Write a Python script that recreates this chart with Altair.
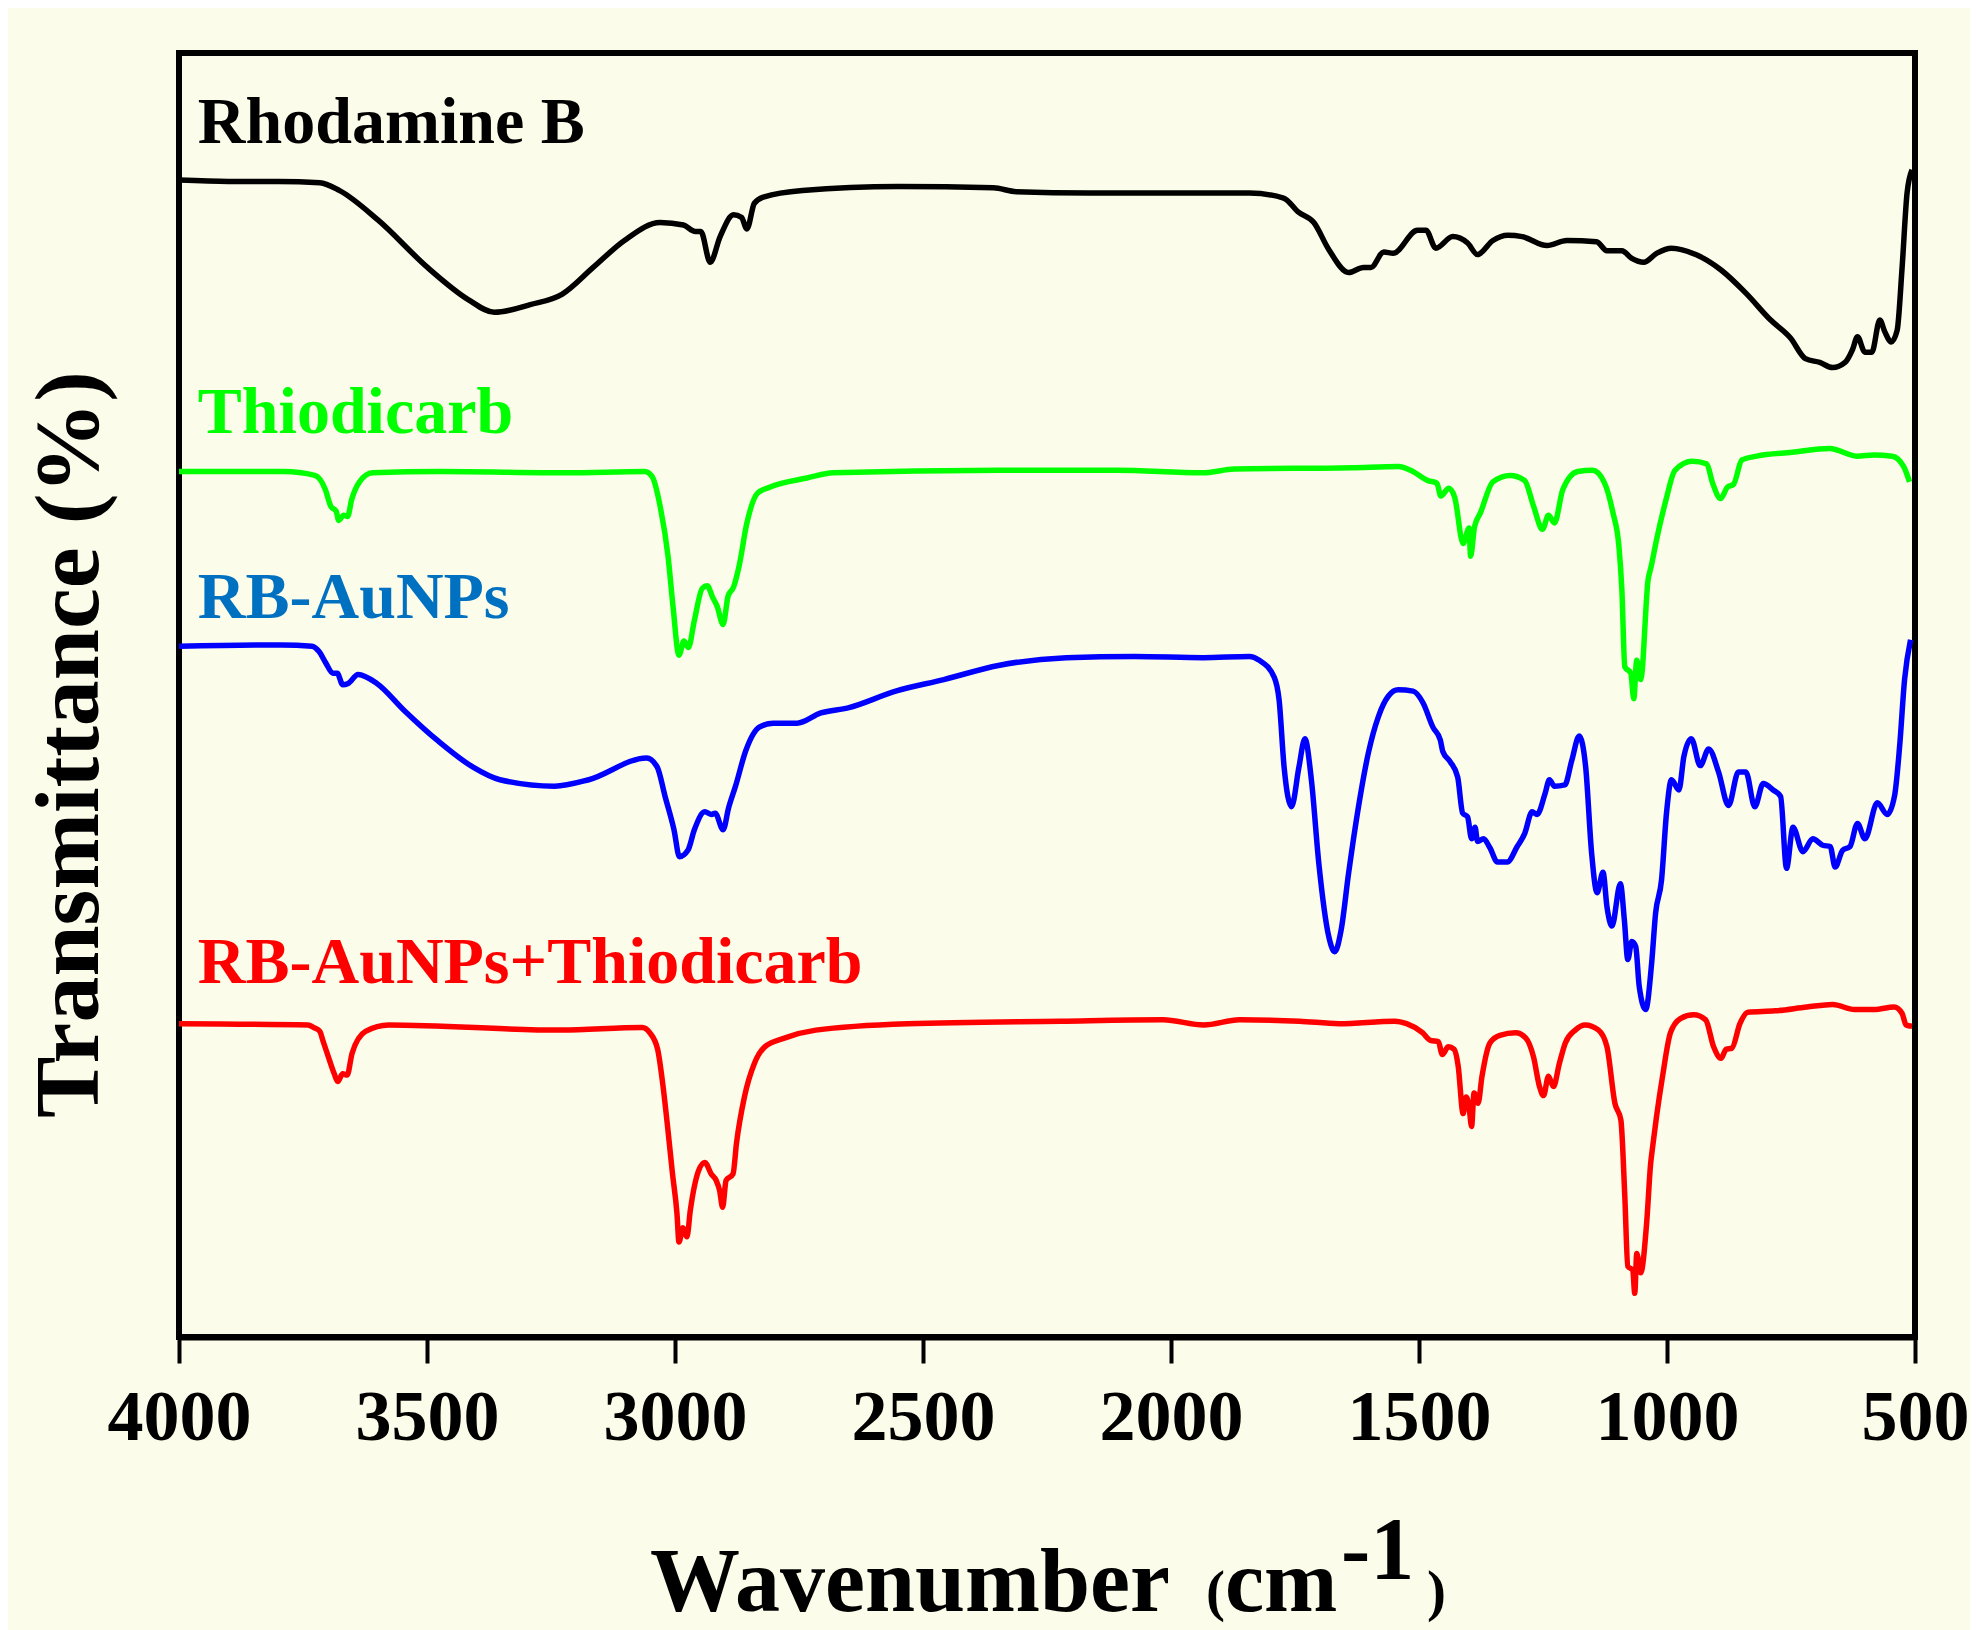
import altair as alt
import pandas as pd

# ---------------- data ----------------
series_names = ["Rhodamine B", "Thiodicarb", "RB-AuNPs", "RB-AuNPs+Thiodicarb"]

rb_wn = [4000, 3900, 3800, 3716, 3677, 3599, 3499, 3417, 3364, 3292, 3228, 3165, 3102, 3030, 2983,
         2959, 2948, 2929, 2909, 2882, 2866, 2855, 2840, 2820, 2743, 2550, 2358, 2312, 2164, 1842,
         1773, 1743, 1712, 1682, 1642, 1612, 1597, 1571, 1552, 1503, 1486, 1466, 1432, 1402, 1382,
         1351, 1321, 1292, 1242, 1202, 1142, 1121, 1091, 1071, 1047, 1021, 991, 942, 891, 841,
         791, 751, 721, 692, 666, 641, 626, 616, 601, 587, 571, 561, 548, 536, 526, 516, 506]
rb_t = [90.1, 90.0, 90.0, 89.9, 89.3, 87.0, 83.3, 80.8, 79.8, 80.4, 81.2, 83.3, 85.4, 86.8, 86.6,
        86.1, 86.1, 83.7, 85.7, 87.4, 87.2, 86.3, 88.3, 88.8, 89.3, 89.6, 89.5, 89.2, 89.1, 89.1,
        88.7, 87.6, 86.8, 84.7, 82.9, 83.3, 83.3, 84.5, 84.4, 86.2, 86.2, 84.8, 85.7, 85.2, 84.3,
        85.4, 85.8, 85.7, 85.0, 85.4, 85.3, 84.6, 84.6, 84.0, 83.7, 84.4, 84.8, 84.3, 83.1, 81.3,
        79.2, 77.8, 76.2, 75.9, 75.5, 75.9, 76.9, 77.9, 76.7, 76.7, 79.2, 78.3, 77.5, 78.4, 83.3,
        89.1, 90.9]

th_wn = [4000, 3789, 3726, 3705, 3694, 3683, 3678, 3668, 3660, 3652, 3636, 3610, 3473, 3219, 3061,
         3046, 3030, 3014, 3004, 2992, 2982, 2973, 2961, 2945, 2935, 2924, 2915, 2903, 2893, 2882,
         2871, 2855, 2834, 2808, 2734, 2681, 2346, 2110, 1937, 1872, 1636, 1541, 1517, 1482, 1464,
         1456, 1440, 1428, 1411, 1399, 1396, 1388, 1376, 1351, 1316, 1287, 1269, 1251, 1239, 1227,
         1210, 1180, 1150, 1127, 1109, 1097, 1091, 1085, 1073, 1067, 1061, 1053, 1038, 1032, 1021,
         1002, 984, 949, 920, 908, 892, 878, 866, 849, 819, 748, 672, 617, 583, 546, 523, 511]
th_t = [67.4, 67.4, 67.1, 66.0, 64.7, 64.3, 63.6, 64.0, 63.9, 65.2, 66.6, 67.3, 67.4, 67.3, 67.4,
        67.0, 64.7, 60.8, 56.9, 53.1, 54.2, 53.7, 55.8, 58.3, 58.5, 57.6, 56.9, 55.5, 57.7, 58.4,
        60.0, 63.4, 65.7, 66.2, 66.9, 67.3, 67.5, 67.5, 67.3, 67.6, 67.7, 67.8, 67.5, 66.7, 66.5,
        65.5, 66.1, 65.4, 61.8, 63.0, 60.8, 63.1, 64.2, 66.6, 67.1, 66.7, 64.7, 62.9, 64.0, 63.4,
        66.0, 67.4, 67.5, 66.6, 64.2, 61.6, 58.2, 52.2, 51.7, 49.7, 52.7, 51.2, 59.0, 60.0, 62.1,
        65.2, 67.5, 68.2, 68.0, 66.5, 65.3, 66.2, 66.4, 68.3, 68.6, 68.9, 69.2, 68.6, 68.7, 68.6,
        67.8, 66.6]

au_wn = [4000, 3793, 3732, 3718, 3704, 3690, 3681, 3670, 3659, 3639,
         3601, 3546, 3477, 3408, 3353, 3243, 3174, 3057, 3036, 3020,
         3002, 2991, 2974, 2961, 2940, 2926, 2919, 2903, 2892, 2878,
         2857, 2830, 2802, 2754, 2706, 2651, 2555, 2458, 2348, 2211,
         2073, 1935, 1842, 1822, 1792, 1782, 1772, 1757, 1742, 1730,
         1717, 1702, 1682, 1670, 1657, 1642, 1622, 1602, 1582, 1562,
         1542, 1512, 1492, 1472, 1457, 1452, 1437, 1422, 1412, 1402,
         1394, 1387, 1382, 1370, 1357, 1342, 1322, 1302, 1287, 1272,
         1262, 1246, 1237, 1227, 1206, 1192, 1177, 1164, 1152, 1141,
         1129, 1121, 1111, 1094, 1086, 1079, 1071, 1063, 1056, 1043,
         1031, 1023, 1011, 1001, 991, 976, 966, 951, 933, 916,
         896, 876, 856, 841, 823, 806, 786, 771, 759, 746,
         726, 706, 686, 671, 661, 646, 631, 616, 601, 576,
         556, 541, 531, 521, 509]
au_t = [53.8, 53.9, 53.8, 53.4, 52.5, 51.7, 51.7, 50.8, 50.9, 51.6,
        50.9, 48.8, 46.4, 44.4, 43.4, 42.9, 43.4, 45.1, 44.4, 42.1,
        39.5, 37.4, 37.9, 39.5, 40.9, 40.7, 40.8, 39.5, 41.2, 42.9,
        45.7, 47.5, 47.8, 47.8, 48.6, 49.0, 50.3, 51.2, 52.3, 52.9,
        53.0, 52.9, 53.0, 52.7, 51.4, 49.6, 44.4, 41.3, 44.4, 46.6,
        43.4, 36.9, 31.2, 30.0, 31.7, 36.1, 41.3, 45.5, 48.3, 49.9,
        50.4, 50.3, 49.4, 47.5, 46.5, 45.6, 44.8, 43.6, 40.8, 40.5,
        38.8, 39.7, 38.6, 38.8, 38.1, 37.0, 37.0, 38.2, 39.2, 40.9,
        40.7, 42.3, 43.4, 42.9, 43.0, 44.9, 46.8, 44.4, 37.7, 34.6,
        36.2, 33.5, 32.0, 35.3, 32.5, 29.4, 30.8, 30.4, 27.3, 25.5,
        29.1, 33.0, 35.6, 40.8, 43.4, 42.6, 45.2, 46.6, 44.5, 45.8,
        44.0, 41.4, 44.0, 44.0, 41.3, 43.1, 42.6, 42.1, 36.5, 39.7,
        37.8, 38.8, 38.3, 38.2, 36.6, 37.9, 38.2, 40.0, 38.8, 41.6,
        40.7, 42.2, 46.0, 51.2, 54.3]

mix_wn = [4000, 3740, 3728, 3716, 3710, 3697, 3687, 3680, 3670, 3661,
          3651, 3624, 3577, 3230, 3066, 3051, 3035, 3025, 3015, 3005,
          2996, 2992, 2984, 2976, 2969, 2953, 2940, 2927, 2917, 2910,
          2904, 2897, 2883, 2876, 2860, 2840, 2819, 2778, 2716, 2531,
          2223, 2016, 1934, 1862, 1741, 1661, 1549, 1525, 1493, 1477,
          1461, 1453, 1441, 1429, 1421, 1411, 1405, 1399, 1394, 1389,
          1381, 1373, 1357, 1337, 1305, 1285, 1269, 1257, 1249, 1239,
          1229, 1217, 1205, 1185, 1165, 1138, 1121, 1105, 1093, 1085,
          1079, 1069, 1065, 1061, 1053, 1041, 1033, 1029, 1021, 1009,
          993, 973, 946, 922, 906, 891, 881, 869, 853, 837,
          782, 718, 666, 622, 582, 542, 526, 518, 506]
mix_t = [24.4, 24.3, 24.1, 23.8, 23.1, 21.6, 20.5, 19.9, 20.5, 20.4,
         22.1, 23.8, 24.3, 23.9, 24.1, 23.7, 22.4, 19.8, 16.4, 12.7,
         9.6, 7.4, 8.5, 7.8, 9.9, 12.9, 13.6, 12.7, 12.2, 11.4,
         10.1, 12.2, 12.7, 15.1, 18.7, 21.3, 22.6, 23.3, 23.9, 24.4,
         24.6, 24.7, 24.3, 24.7, 24.6, 24.4, 24.6, 24.4, 23.7, 23.1,
         23.0, 22.0, 22.6, 22.4, 21.1, 17.4, 18.7, 17.9, 16.4, 19.0,
         18.2, 20.3, 22.9, 23.5, 23.7, 23.3, 21.8, 19.5, 18.8, 20.3,
         19.5, 21.3, 22.9, 23.9, 24.3, 23.9, 22.6, 18.2, 16.9, 10.9,
         5.5, 5.2, 3.4, 6.5, 5.0, 8.9, 13.5, 14.8, 17.2, 20.3,
         23.7, 24.8, 25.1, 24.7, 22.6, 21.7, 22.4, 22.5, 24.4, 25.3,
         25.4, 25.7, 25.9, 25.5, 25.5, 25.7, 25.2, 24.3, 24.2]

# curve name labels (position in data units)
label_wn = [3962, 3962, 3962, 3962]
label_t = [93.0, 70.4, 56.0, 27.6]

tick_values = [4000, 3500, 3000, 2500, 2000, 1500, 1000, 500]

x_title_main = "Wavenumber"
x_title_open = "("
x_title_unit = "cm"
x_title_sup = "-1"
x_title_close = ")"
y_title = "Transmittance (%)"

# ---------------- styles ----------------
line_colors = ["#000000", "#00FF00", "#0000FF", "#FF0000"]
label_colors = ["#000000", "#00FF00", "#0070C0", "#FF0000"]
FONT = "Liberation Serif"
BG = "#FCFCEA"

rows = []
for name, wn, t in zip(series_names, [rb_wn, th_wn, au_wn, mix_wn], [rb_t, th_t, au_t, mix_t]):
    for w, v in zip(wn, t):
        rows.append({"series": name, "wn": w, "t": v})
df = pd.DataFrame(rows)

lab_df = pd.DataFrame({"label": series_names, "wn": label_wn, "t": label_t})

x_enc = alt.X(
    "wn:Q",
    scale=alt.Scale(domain=[4000, 500], nice=False, zero=False),
    axis=alt.Axis(
        values=tick_values, format="d", title=None, grid=False,
        labelFont=FONT, labelFontWeight="bold", labelFontSize=72, labelColor="black",
        labelPadding=19, labelFlush=False, labelOverlap=False,
        tickSize=26, tickWidth=4, tickColor="black",
        domainColor="black", domainWidth=6,
    ),
)
y_enc = alt.Y(
    "t:Q",
    scale=alt.Scale(domain=[0, 100], nice=False, zero=False),
    axis=alt.Axis(
        title=y_title, labels=False, ticks=False, domain=False, grid=False,
        titleFont=FONT, titleFontWeight="bold", titleFontSize=92, titleColor="black",
        titleAngle=270, titleX=-82, titleY=691, titleAlign="center",
        titleBaseline="alphabetic",
    ),
)

lines = alt.Chart(df).mark_line(strokeWidth=5.5, interpolate="monotone").encode(
    x=x_enc,
    y=y_enc,
    order=alt.Order("wn:Q", sort="descending"),
    color=alt.Color("series:N", scale=alt.Scale(domain=series_names, range=line_colors), legend=None),
)

labels = alt.Chart(lab_df).mark_text(
    align="left", baseline="alphabetic", font=FONT, fontWeight="bold", fontSize=66
).encode(
    x=x_enc,
    y=y_enc,
    text="label:N",
    color=alt.Color("label:N", scale=alt.Scale(domain=series_names, range=label_colors), legend=None),
)


def title_piece(txt, px, py, size):
    return alt.Chart(pd.DataFrame({"s": [txt]})).mark_text(
        align="left", baseline="alphabetic", font=FONT, fontWeight="bold",
        fontSize=size, color="black"
    ).encode(text="s:N", x=alt.value(px), y=alt.value(py))


xt1 = title_piece(x_title_main, 471, 1558, 90)
xt2 = title_piece(x_title_open, 1027, 1557, 57)
xt3 = title_piece(x_title_unit, 1046, 1558, 88)
xt4 = title_piece(x_title_sup, 1162, 1525, 88)
xt5 = title_piece(x_title_close, 1248, 1557, 57)

chart = alt.layer(lines, labels, xt1, xt2, xt3, xt4, xt5).resolve_scale(
    color="independent"
).properties(
    width=1736,
    height=1284,
    padding={"left": 171, "top": 45, "right": 55, "bottom": 293},
    autosize=alt.AutoSizeParams(type="none"),
    background=BG,
).configure_view(stroke="black", strokeWidth=6, fill=BG)

chart.save("out.html", embed_options={"renderer": "svg", "actions": False})
